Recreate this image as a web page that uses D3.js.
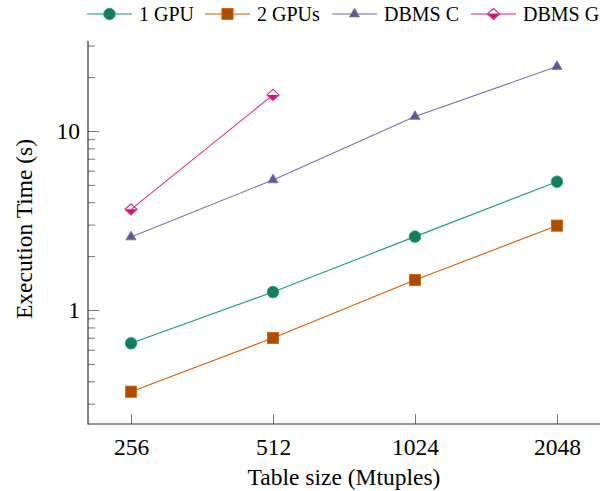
<!DOCTYPE html>
<html>
<head>
<meta charset="utf-8">
<script src="https://cdn.jsdelivr.net/npm/d3@7"></script>
<style>
  html, body { margin: 0; padding: 0; background: #fff; }
  svg { display: block; }
  svg text { font-family: "Liberation Serif", "Times New Roman", Times, serif !important; fill: #000; }
</style>
</head>
<body>
<svg id="chart" width="608" height="491"></svg>
<script>
// ---- data ----
const categories = ["256", "512", "1024", "2048"];
const seriesNames = ["1 GPU", "2 GPUs", "DBMS C", "DBMS G"];
const gpu1   = [0.652, 1.26, 2.57, 5.21];
const gpu2   = [0.350, 0.698, 1.47, 2.96];
const dbmsC  = [2.56, 5.33, 12.05, 22.9];
const dbmsG  = [3.65, 15.9, null, null];
const yMajorTicks = [1, 10];
const yMinorTicks = [0.3, 0.4, 0.5, 0.6, 0.7, 0.8, 0.9, 2, 3, 4, 5, 6, 7, 8, 9, 20, 30];
const xLabel = "Table size (Mtuples)";
const yLabel = "Execution Time (s)";

const colors = ["#1b9e77", "#d95f02", "#7570b3", "#e7298a"];
const fills  = ["#167e5f", "#ae4c02", "#5e5a8f", "#b9216e"];
const markers = ["circle", "square", "triangle", "halfdiamond"];
const seriesValues = [gpu1, gpu2, dbmsC, dbmsG];

(function () {
// ---- layout ----
const svg = d3.select("#chart");
const mLeft = 88, mRight = 600, mTop = 41, mBottom = 424;
const FONT = "'Liberation Serif', 'Times New Roman', Times, serif";

const x = d3.scaleLinear().domain([-0.303, 3.303]).range([mLeft, mRight]);
const y = d3.scaleLog().domain([0.231, 31.8]).range([mBottom, mTop]);

// ---- axes ----
const axisColor = "#333";
const tickColor = "#777";

// x ticks (inward)
const gx = svg.append("g").attr("transform", `translate(0,${mBottom})`);
gx.call(d3.axisBottom(x).tickValues(d3.range(categories.length))
  .tickFormat(i => categories[i]).tickSizeInner(-10).tickSizeOuter(0).tickPadding(14));
gx.select(".domain").remove();
gx.attr("font-family", FONT).attr("font-size", 23.5);
gx.selectAll(".tick line").attr("stroke", tickColor).attr("stroke-width", 1);
gx.selectAll(".tick text").attr("fill", "#000");

// y major ticks
const gy = svg.append("g").attr("transform", `translate(${mLeft},0)`);
gy.call(d3.axisLeft(y).tickValues(yMajorTicks).tickFormat(d3.format("d"))
  .tickSizeInner(-11).tickSizeOuter(0).tickPadding(8));
gy.select(".domain").remove();
gy.attr("font-family", FONT).attr("font-size", 23.5);
gy.selectAll(".tick line").attr("stroke", tickColor).attr("stroke-width", 1);
gy.selectAll(".tick text").attr("fill", "#000");

// y minor ticks
const gyMinor = svg.append("g").attr("transform", `translate(${mLeft},0)`);
gyMinor.call(d3.axisLeft(y).tickValues(yMinorTicks).tickFormat("").tickSizeInner(-7).tickSizeOuter(0));
gyMinor.select(".domain").remove();
gyMinor.selectAll(".tick line").attr("stroke", tickColor).attr("stroke-width", 1);

// axis lines
svg.append("line").attr("x1", mLeft).attr("x2", mLeft).attr("y1", mTop).attr("y2", mBottom + 0.5)
  .attr("stroke", axisColor).attr("stroke-width", 1.2);
svg.append("line").attr("x1", mLeft).attr("x2", mRight).attr("y1", mBottom).attr("y2", mBottom)
  .attr("stroke", axisColor).attr("stroke-width", 1.2);

// axis labels
svg.append("text").attr("x", (mLeft + mRight) / 2).attr("y", 485)
  .attr("text-anchor", "middle").attr("font-size", 23.5).attr("font-family", FONT).text(xLabel);
svg.append("text").attr("transform", `translate(32,229) rotate(-90)`)
  .attr("text-anchor", "middle").attr("font-size", 23.5).attr("font-family", FONT).text(yLabel);

// ---- marker drawing ----
function drawMarker(g, type, cx, cy, i) {
  const c = colors[i], f = fills[i];
  if (type === "circle") {
    g.append("circle").attr("cx", cx).attr("cy", cy).attr("r", 5.8)
      .attr("fill", f).attr("stroke", c).attr("stroke-width", 0.8);
  } else if (type === "square") {
    g.append("rect").attr("x", cx - 5.6).attr("y", cy - 5.6).attr("width", 11.2).attr("height", 11.2)
      .attr("fill", f).attr("stroke", c).attr("stroke-width", 0.8);
  } else if (type === "triangle") {
    const r = 5.8;
    const pts = [[cx, cy - r], [cx - r * Math.sqrt(3) / 2, cy + r / 2], [cx + r * Math.sqrt(3) / 2, cy + r / 2]];
    g.append("polygon").attr("points", pts.map(p => p.join(",")).join(" "))
      .attr("fill", f).attr("stroke", c).attr("stroke-width", 0.8);
  } else if (type === "halfdiamond") {
    const w = 6, h = 5.5;
    g.append("polygon").attr("points", `${cx - w},${cy} ${cx + w},${cy} ${cx},${cy + h}`)
      .attr("fill", f);
    g.append("polygon").attr("points", `${cx},${cy - h} ${cx + w},${cy} ${cx},${cy + h} ${cx - w},${cy}`)
      .attr("fill", "none").attr("stroke", c).attr("stroke-width", 1.2);
  }
}

// ---- series ----
const line = d3.line().defined(d => d[1] != null).x(d => x(d[0])).y(d => y(d[1]));
seriesValues.forEach((vals, i) => {
  const pts = vals.map((v, j) => [j, v]);
  const g = svg.append("g");
  g.append("path").datum(pts).attr("d", line)
    .attr("fill", "none").attr("stroke", colors[i]).attr("stroke-width", 1.1);
  pts.filter(p => p[1] != null).forEach(p => drawMarker(g, markers[i], x(p[0]), y(p[1]), i));
});

// ---- legend ----
const lg = svg.append("g");
const legendStarts = [87, 205, 332, 471];
const ly = 14;
seriesNames.forEach((name, i) => {
  const lx = legendStarts[i];
  lg.append("line").attr("x1", lx).attr("x2", lx + 45).attr("y1", ly).attr("y2", ly)
    .attr("stroke", colors[i]).attr("stroke-width", 1.6).attr("stroke-opacity", 0.7);
  drawMarker(lg, markers[i], lx + 22.5, ly, i);
  lg.append("text").attr("x", lx + 52).attr("y", ly + 6.5)
    .attr("font-size", 20).attr("font-family", FONT).text(name);
});
})();
</script>
</body>
</html>
